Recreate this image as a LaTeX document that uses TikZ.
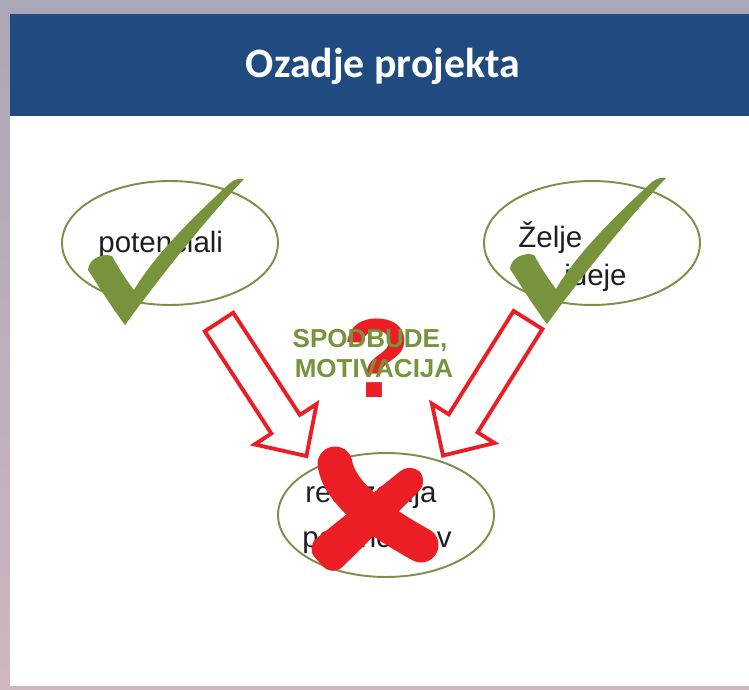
\documentclass[tikz,border=0pt]{standalone}
\usepackage{fontspec}
\setmainfont{Liberation Sans}
\newfontfamily\titlefont{Carlito}
\usetikzlibrary{shapes.geometric}

\definecolor{bgtop}{RGB}{170,167,184}
\definecolor{bgbot}{RGB}{206,182,190}
\definecolor{headblue}{RGB}{31,75,128}
\definecolor{olive}{RGB}{119,147,60}
\definecolor{ringolive}{RGB}{128,142,74}
\definecolor{xred}{RGB}{234,30,36}

\tikzset{
  bubble/.style={ellipse, draw=ringolive, line width=1.1pt, minimum width=4.32cm, minimum height=2.48cm, inner sep=0pt},
  bodytext/.style={font=\fontsize{16.8}{20}\selectfont, text=black!88, inner sep=0pt},
  greentick/.pic={
    \fill[olive] (0,0) .. controls (-15,-20) and (-27,-40) .. (-37,-55)
      .. controls (-36,-67) and (-22,-72) .. (-13,-69)
      .. controls (-6,-56) and (2,-44) .. (9,-35)
      .. controls (30,-70) and (65,-105) .. (105,-142)
      .. controls (110,-146) and (116,-147) .. (119,-146)
      .. controls (85,-110) and (40,-55) .. (0,0) -- cycle;
  },
  hollowarrow/.pic={
    \draw[xred, line width=2.2pt, fill=white, line join=miter]
      (0,-17) -- (122,-17) -- (122,-37) -- (160,0) -- (122,37) -- (122,17) -- (0,17) -- cycle;
  }
}

\begin{document}
\begin{tikzpicture}[x=0.02cm, y=-0.02cm]
  \useasboundingbox (0,0) rectangle (749,689);

  % slide background
  \shade[top color=bgtop, bottom color=bgbot] (0,0) rectangle (749,689);
  \fill[white] (10,116) rectangle (749,686);
  \fill[headblue] (10,14) rectangle (749,116);
  \node[font=\titlefont\bfseries\fontsize{23.8}{28}\selectfont, text=white, anchor=base, inner sep=0pt] (title) at (383,78) {Ozadje projekta};

  % ellipses
  \node[bubble] (pot) at (170,243) {};
  \node[bubble] (zel) at (592,243) {};
  \node[bubble] (real) at (386,515) {};

  % ellipse texts
  \node[bodytext, anchor=base west] (potT) at (98,252) {potenciali};
  \node[bodytext, anchor=base west] (zelT1) at (518,247) {Želje};
  \node[bodytext, anchor=base east] (zelT2) at (627,285) {ideje};
  \node[bodytext, anchor=base west] (realT1) at (305,502) {realizacija};
  \node[bodytext, anchor=base west] (realT2) at (302,547) {potencialov};

  % block arrows
  \coordinate (ltail) at (219,322);
  \coordinate (rtail) at (528,320);
  \pic[rotate=-56.9] at (ltail) {hollowarrow};
  \pic[rotate=-122.1] at (rtail) {hollowarrow};

  % check marks
  \pic at (125,325) {greentick};
  \pic at (547,324) {greentick};

  % question mark and incentive text
  \node[font=\bfseries\fontsize{64}{68}\selectfont, text=xred, anchor=base, inner sep=0pt] (qm) at (377,397) {?};
  \node[font=\bfseries\fontsize{14.8}{18}\selectfont, text=olive, anchor=base, inner sep=0pt] (mot1) at (370,347) {SPODBUDE,};
  \node[font=\bfseries\fontsize{14.8}{18}\selectfont, text=olive, anchor=base, inner sep=0pt] (mot2) at (374,377) {MOTIVACIJA};

  % red cross
  \draw[xred, line width=0.7cm, line cap=round] (335,464) .. controls (340,495) and (383,524) .. (421,545);
  \fill[xred, rounded corners=8] (428.7,481.6) -- (411.3,462.4) -- (305.5,547.2) -- (332.5,576.8) -- cycle;
\end{tikzpicture}
\end{document}
